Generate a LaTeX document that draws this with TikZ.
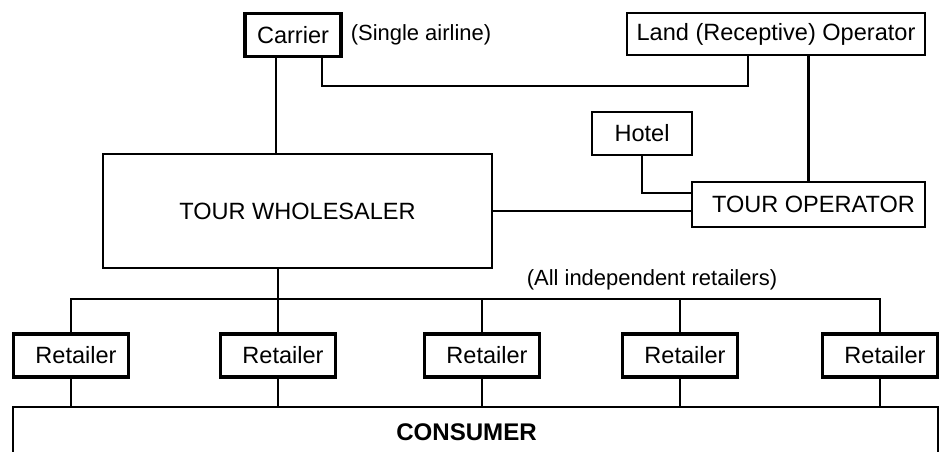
\documentclass[tikz,border=0pt]{standalone}
\usepackage{fontspec}
\setmainfont{Liberation Sans}
\usepackage{tikz}
\usetikzlibrary{positioning,calc}

\begin{document}
\begin{tikzpicture}[font=\fontsize{12.5}{15}\selectfont,
        bx/.style={draw,line width=1.1pt,inner sep=1pt,minimum height=8.6mm,font=\fontsize{13.4}{16}\selectfont},
        tbx/.style={bx,line width=2pt},
        ln/.style={line width=1.2pt}]
        \useasboundingbox (0,0) rectangle (18.82,9.04);
        % top row
        \node[tbx,minimum width=19.2mm] (car) at (5.86,8.34) {Carrier};
        \node (air) at (8.42,8.34) {(Single airline)};
        \node[bx,minimum width=59.6mm,minimum height=8.4mm] (land) at (15.52,8.36) {Land (Receptive) Operator};
        % middle
        \node[bx,minimum width=20mm] (hot) at (12.84,6.37) {Hotel};
        \node[bx,minimum width=77.8mm,minimum height=22.8mm] (ws) at (5.95,4.82) {TOUR WHOLESALER};
        \node[bx,minimum width=46.6mm,minimum height=9mm] (to) at (16.17,4.95) {\hspace*{2mm}TOUR OPERATOR};
        \node (ind) at (13.04,3.44) {(All independent retailers)};
        % retailers and consumer
        \node[tbx,minimum width=23mm] (r1) at (1.42,1.93) {\hspace*{2mm}Retailer};
        \node[tbx,minimum width=23mm] (r2) at (5.56,1.93) {\hspace*{2mm}Retailer};
        \node[tbx,minimum width=23mm] (r3) at (9.64,1.93) {\hspace*{2mm}Retailer};
        \node[tbx,minimum width=23mm] (r4) at (13.60,1.93) {\hspace*{2mm}Retailer};
        \node[tbx,minimum width=23mm] (r5) at (17.60,1.93) {\hspace*{2mm}Retailer};
        \node[bx,minimum width=185mm,minimum height=10mm,font=\fontsize{13.7}{16}\selectfont\bfseries] (con) at (9.51,0.40) {CONSUMER\hspace*{3.6mm}};
        \coordinate (bus) at (0,3.06);
        \draw[ln] ([xshift=-3.4mm]car.south) -- ([xshift=-3.4mm]car.south |- ws.north);
        \draw[ln] ([xshift=5.8mm]car.south) -- ++(0,-0.56) -| ([xshift=-5.6mm]land.south);
        \draw[ln] (to.north) -- (to.north |- land.south);
        \draw[ln] (hot.south) |- ([yshift=2.3mm]to.west);
        \draw[ln] (ws.east) -- (ws.east -| to.west);
        \draw[ln] (ws.south -| r2.north) -- (r2.north);
        \draw[ln] (r1.north) -- (r1.north |- bus) -- (r5.north |- bus) -- (r5.north);
        \draw[ln] (r3.north) -- (r3.north |- bus); \draw[ln] (r4.north) -- (r4.north |- bus);
        \draw[ln] (r1.south) -- (r1.south |- con.north); \draw[ln] (r2.south) -- (r2.south |- con.north);
        \draw[ln] (r3.south) -- (r3.south |- con.north); \draw[ln] (r4.south) -- (r4.south |- con.north);
        \draw[ln] (r5.south) -- (r5.south |- con.north);
      \end{tikzpicture}
\end{document}
